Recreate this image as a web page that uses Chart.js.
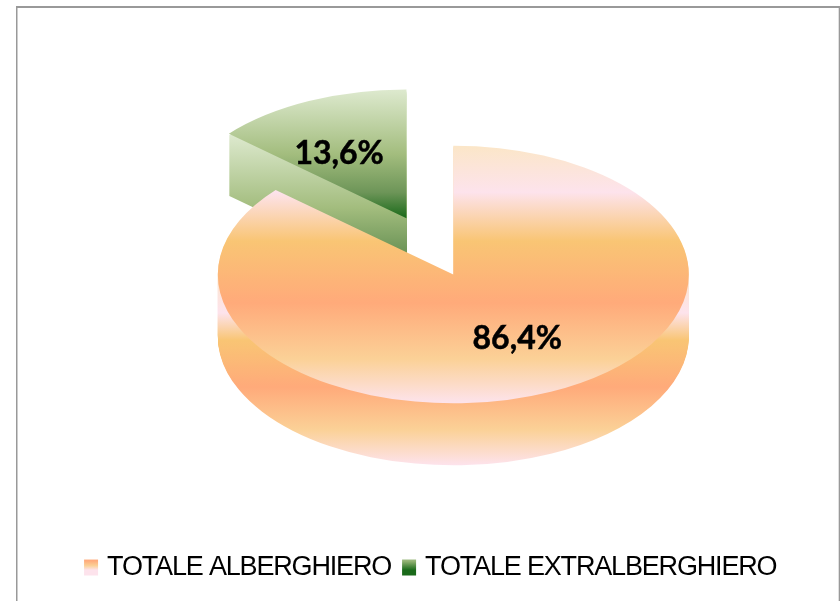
<!DOCTYPE html>
<html>
<head>
<meta charset="utf-8">
<style>
html,body{margin:0;padding:0;background:#fff;overflow:hidden}
#wrap{position:absolute;left:0;top:0;width:840px;height:601px}
canvas{display:block}
</style>
<script src="https://cdn.jsdelivr.net/npm/chart.js@4"></script>
</head>
<body>
<div id="wrap"><canvas id="c" width="840" height="601"></canvas></div>
<script>
const categories = ['TOTALE ALBERGHIERO', 'TOTALE EXTRALBERGHIERO'];
const shares = [86.4, 13.6];
const baseColors = ['#FFAA7A', '#6D9558'];
const explodeFractions = [0, 0.48];
const labelRadiusX = [0.655, 0.69];
const labelRadiusY = [0.55, 0.55];

const view = {cx: 453.3, cy: 274.5, rx: 235.5, ry: 128.8, depth: 62};
const legendTracking = '-1.17px';

const topStops = [
  {y0:146, y1:403, stops:[[0,'#FBE6C8'],[0.18,'#FDE3EC'],[0.37,'#F9C574'],[0.61,'#FFAA7A'],[0.83,'#FBD197'],[1,'#FDE3EC']]},
  {y0:90, y1:218, stops:[[0,'#DDE9CE'],[0.5,'#A3BD7E'],[0.8,'#6D9558'],[1,'#1A6A1A']]}
];
const sideStops = [
  {y0:270, y1:465, stops:[[0,'#FBE6C8'],[0.22,'#FDE3EC'],[0.36,'#F9C574'],[0.6,'#FFAA7A'],[0.82,'#FBD197'],[1,'#FDE3EC']]},
  {y0:135, y1:280, stops:[[0,'#DDE9CE'],[0.5,'#A3BD7E'],[0.8,'#6D9558'],[1,'#1A6A1A']]}
];
const legendStops = [
  [[0,'#FDE3D0'],[0.45,'#FFAA7A'],[0.75,'#FBD197'],[1,'#FDE3EC']],
  [[0,'#D5E4C4'],[0.5,'#8FB070'],[1,'#1A6A1A']]
];

function grad(ctx, y0, y1, stops){
  const g = ctx.createLinearGradient(0, y0, 0, y1);
  stops.forEach(s => g.addColorStop(s[0], s[1]));
  return g;
}

const pie3d = {
  id: 'pie3d',
  beforeLayout(chart){ chart.ctx.letterSpacing = legendTracking; },
  beforeDraw(chart){
    const ctx = chart.ctx;
    ctx.letterSpacing = '0px';
    ctx.save();
    ctx.fillStyle = '#999999';
    ctx.fillRect(16, 6, 824, 2);
    ctx.fillRect(16, 6, 1.5, 595);
    ctx.fillRect(838.7, 6, 1.3, 595);
    ctx.restore();
    const boxes = chart.legend.legendHitBoxes;
    chart.legend.legendItems.forEach((it, i) => {
      const b = boxes[i];
      const g = grad(ctx, b.top - 1, b.top + 16, legendStops[i]);
      it.fillStyle = g; it.strokeStyle = g;
    });
    ctx.letterSpacing = legendTracking;
  },
  beforeDatasetsDraw(chart){
    const ctx = chart.ctx;
    ctx.letterSpacing = '0px';
    const arcs = chart.getDatasetMeta(0).data;
    [1, 0].forEach(i => {
      const arc = arcs[i];
      const R = arc.outerRadius;
      const sx = view.rx / R, sy = view.ry / R;
      const mid = (arc.startAngle + arc.endAngle) / 2;
      const ex = Math.cos(mid) * explodeFractions[i] * view.rx;
      const ey = Math.sin(mid) * explodeFractions[i] * view.ry;
      const tx = view.cx + ex - sx * arc.x;
      const ty = view.cy + ey - sy * arc.y;
      const base = arc.options;
      const gap = i === 1 ? 2 : 0;
      for (let d = view.depth; d >= 0; d -= 1) {
        const isTop = d === 0;
        if (!isTop && d < gap) continue;
        const spec = isTop ? topStops[i] : sideStops[i];
        const off = ty + d;
        ctx.save();
        ctx.setTransform(sx, 0, 0, sy, tx, off);
        const g = grad(ctx, (spec.y0 - off) / sy, (spec.y1 - off) / sy, spec.stops);
        arc.options = Object.assign({}, base, {backgroundColor: g});
        arc.draw(ctx);
        ctx.restore();
      }
      arc.options = base;
    });
    ctx.letterSpacing = legendTracking;
    return false;
  },
  afterDraw(chart){
    const ctx = chart.ctx;
    const arcs = chart.getDatasetMeta(0).data;
    ctx.save();
    ctx.letterSpacing = '0px';
    ctx.fillStyle = '#000';
    ctx.strokeStyle = '#000';
    ctx.lineWidth = 0.5;
    ctx.font = 'bold 32px Lato';
    ctx.textAlign = 'center';
    ctx.textBaseline = 'middle';
    arcs.forEach((arc, i) => {
      const mid = (arc.startAngle + arc.endAngle) / 2;
      const e = explodeFractions[i];
      const x = view.cx + Math.cos(mid) * view.rx * (e + labelRadiusX[i]);
      const y = view.cy + Math.sin(mid) * view.ry * (e + labelRadiusY[i]);
      const s = shares[i].toFixed(1).replace('.', ',') + '%';
      ctx.fillText(s, x, y);
      ctx.strokeText(s, x, y);
    });
    ctx.restore();
  }
};

new Chart(document.getElementById('c'), {
  type: 'pie',
  data: {
    labels: categories,
    datasets: [{data: shares, backgroundColor: baseColors, borderWidth: 0}]
  },
  plugins: [pie3d],
  options: {
    responsive: false,
    animation: false,
    layout: {padding: {left: 25, bottom: 10}},
    plugins: {
      tooltip: {enabled: false},
      legend: {
        position: 'bottom',
        labels: {
          boxWidth: 5,
          boxHeight: 7,
          padding: 15.5,
          color: '#000',
          font: {family: '"Liberation Sans"', size: 27},
          generateLabels(chart){
            return categories.map((t, i) => ({
              text: t, fillStyle: baseColors[i], strokeStyle: baseColors[i],
              lineWidth: 9, index: i, hidden: false, fontColor: '#000'
            }));
          }
        }
      }
    }
  }
});
</script>
</body>
</html>
